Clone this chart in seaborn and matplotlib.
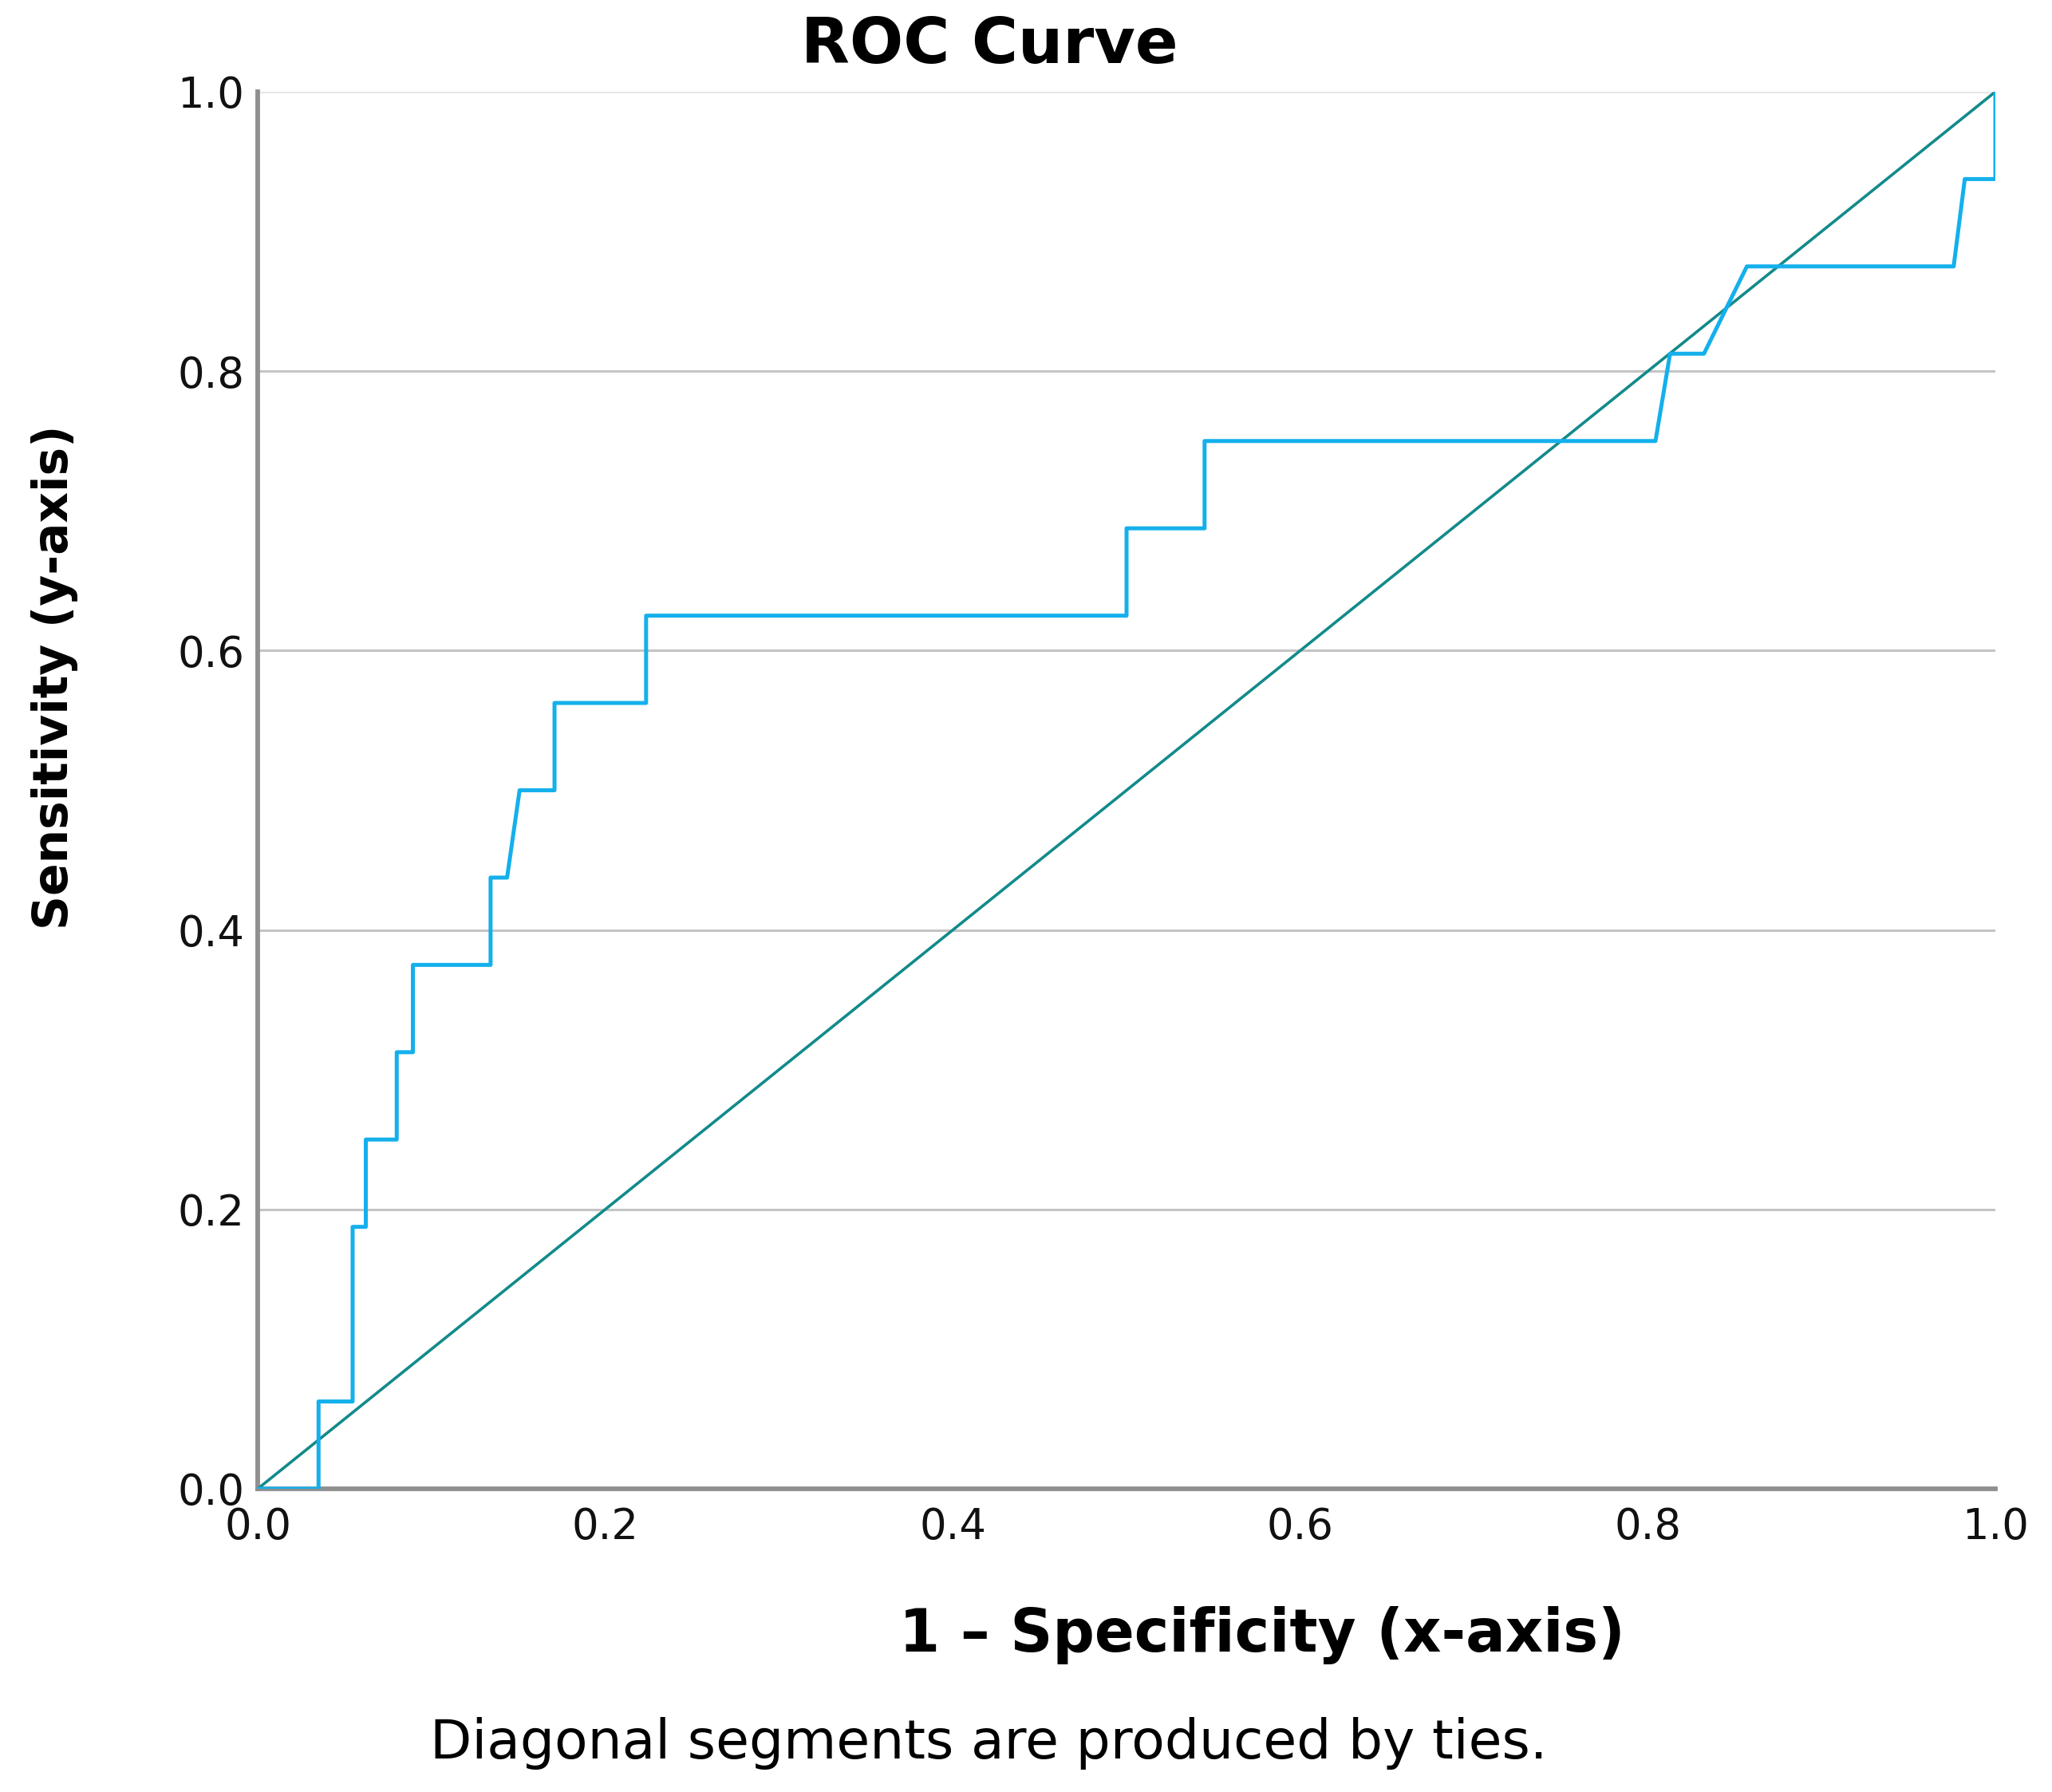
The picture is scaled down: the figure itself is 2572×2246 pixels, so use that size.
import seaborn as sns
import pandas as pd
import matplotlib
matplotlib.use("Agg")
from matplotlib import pyplot as plt

# ROC curve points (1 - specificity, sensitivity)
fpr = [0.0, 0.035, 0.035, 0.0546, 0.0546, 0.0622, 0.0622, 0.080, 0.080,
       0.0893, 0.0893, 0.134, 0.134, 0.1435, 0.1507, 0.1708, 0.1708,
       0.2235, 0.2235, 0.5, 0.5, 0.5449, 0.5449, 0.8044, 0.8128, 0.8323,
       0.857, 0.976, 0.9824, 1.0, 1.0]
tpr = [0.0, 0.0, 0.0625, 0.0625, 0.1875, 0.1875, 0.25, 0.25, 0.3125,
       0.3125, 0.375, 0.375, 0.4375, 0.4375, 0.5, 0.5, 0.5625,
       0.5625, 0.625, 0.625, 0.6875, 0.6875, 0.75, 0.75, 0.8125, 0.8125,
       0.875, 0.875, 0.9375, 0.9375, 1.0]
ref_x = [0.0, 1.0]
ref_y = [0.0, 1.0]
ticks = [0.0, 0.2, 0.4, 0.6, 0.8, 1.0]
tick_labels = ["0.0", "0.2", "0.4", "0.6", "0.8", "1.0"]

roc = pd.DataFrame({"fpr": fpr, "tpr": tpr})
ref = pd.DataFrame({"x": ref_x, "y": ref_y})

sns.set_style("white")
plt.rcParams["font.family"] = ["DejaVu Sans"]
plt.rcParams["text.color"] = "black"
plt.rcParams["axes.labelcolor"] = "black"

fig = plt.figure(figsize=(25.72, 22.46), dpi=100)
ax = fig.add_axes([0.1256, 0.1692, 0.8468, 0.7796])

# horizontal grid lines
for t in ticks[1:]:
    ax.axhline(t, color="#c4c4c4" if t < 1.0 else "#e6e6e6", lw=2.2, zorder=0)

sns.lineplot(data=ref, x="x", y="y", color="#138a8a", lw=2.6,
             sort=False, estimator=None, ax=ax, zorder=2)
sns.lineplot(data=roc, x="fpr", y="tpr", color="#14b0ec", lw=3.6,
             sort=False, estimator=None, ax=ax, zorder=3)

ax.set_xlim(0, 1)
ax.set_ylim(0, 1)
ax.set_xticks(ticks)
ax.set_xticklabels(tick_labels)
ax.set_yticks(ticks)
ax.set_yticklabels(tick_labels)
ax.tick_params(axis="both", length=0, labelsize=38, colors="#111111")
ax.tick_params(axis="x", pad=16)
ax.tick_params(axis="y", pad=12)

for side in ["top", "right"]:
    ax.spines[side].set_visible(False)
for side in ["left", "bottom"]:
    ax.spines[side].set_color("#8f8f8f")
    ax.spines[side].set_linewidth(4.2)
    ax.spines[side].set_zorder(1)

ax.set_xlabel("1 – Specificity (x-axis)", fontsize=53, fontweight="bold")
ax.xaxis.set_label_coords(0.578, -0.105)
ax.xaxis.label.set_va("center")
ax.set_ylabel("Sensitivity (y-axis)", fontsize=43, fontweight="bold")
ax.yaxis.set_label_coords(-0.117, 0.581)
ax.yaxis.label.set_va("center")

ax.text(0.421, 1.033, "ROC Curve", transform=ax.transAxes, fontsize=57,
        fontweight="bold", ha="center", va="center")

fig.text(0.482, 0.027, "Diagonal segments are produced by ties.",
         fontsize=49, ha="center", va="center")

plt.savefig("out.png", dpi=100)
